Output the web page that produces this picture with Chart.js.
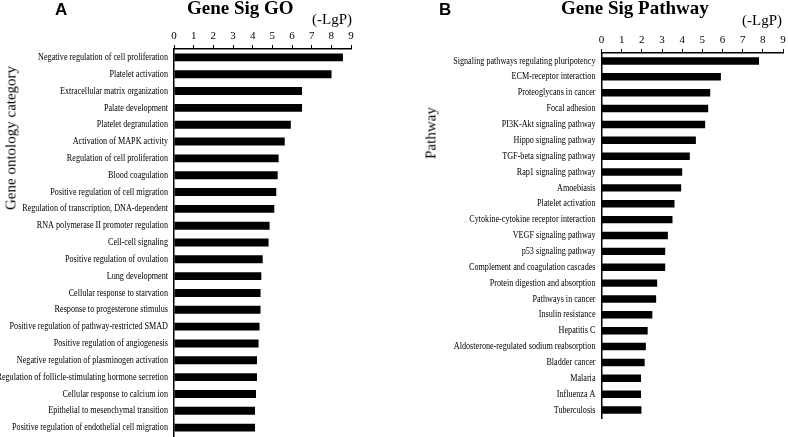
<!DOCTYPE html>
<html>
<head>
<meta charset="utf-8">
<script src="https://cdn.jsdelivr.net/npm/chart.js"></script>
<style>
  body { margin: 0; background: #fff; }
  #wrap { position: relative; width: 788px; height: 437px; overflow: hidden; }
  canvas { position: absolute; top: 0; }
  .t { position: absolute; white-space: nowrap; line-height: 1; color: #000; }
  .serif { font-family: "Liberation Serif", "Times New Roman", serif; }
  .panel { font-family: "Liberation Sans", Arial, sans-serif; font-weight: bold; font-size: 17px; }
  .ttl { font-weight: bold; font-size: 19px; }
  .unit { font-size: 15px; }
  .ytitle { font-size: 15px; transform: translate(-50%, -50%) rotate(-90deg); }
</style>
</head>
<body>
<div id="wrap">
  <canvas id="goChart" width="394" height="437" style="left:0"></canvas>
  <canvas id="pathChart" width="394" height="437" style="left:394px"></canvas>

  <div class="t panel" style="left:55px; top:1px">A</div>
  <div class="t serif ttl" style="left:187px; top:-2px">Gene Sig GO</div>
  <div class="t serif unit" style="left:312px; top:12px">(-LgP)</div>
  <div class="t serif ytitle" style="left:11px; top:138px">Gene ontology category</div>

  <div class="t panel" style="left:439px; top:1px">B</div>
  <div class="t serif ttl" style="left:561px; top:-2px">Gene Sig Pathway</div>
  <div class="t serif unit" style="left:742px; top:13px">(-LgP)</div>
  <div class="t serif ytitle" style="left:431px; top:133px">Pathway</div>
</div>

<script>
const xTicks = [0, 1, 2, 3, 4, 5, 6, 7, 8, 9];

const goLabels = [
  "Negative regulation of cell proliferation",
  "Platelet activation",
  "Extracellular matrix organization",
  "Palate development",
  "Platelet degranulation",
  "Activation of MAPK activity",
  "Regulation of cell proliferation",
  "Blood coagulation",
  "Positive regulation of cell migration",
  "Regulation of transcription, DNA-dependent",
  "RNA polymerase II promoter regulation",
  "Cell-cell signaling",
  "Positive regulation of ovulation",
  "Lung development",
  "Cellular response to starvation",
  "Response to progesterone stimulus",
  "Positive regulation of pathway-restricted SMAD",
  "Positive regulation of angiogenesis",
  "Negative regulation of plasminogen activation",
  "Regulation of follicle-stimulating hormone secretion",
  "Cellular response to calcium ion",
  "Epithelial to mesenchymal transition",
  "Positive regulation of endothelial cell migration"
];
const goValues = [8.59, 8.01, 6.51, 6.51, 5.94, 5.63, 5.32, 5.27, 5.20, 5.10, 4.86, 4.81,
  4.51, 4.44, 4.40, 4.40, 4.35, 4.30, 4.22, 4.22, 4.17, 4.12, 4.12];

const pathLabels = [
  "Signaling pathways regulating pluripotency",
  "ECM-receptor interaction",
  "Proteoglycans in cancer",
  "Focal adhesion",
  "PI3K-Akt signaling pathway",
  "Hippo signaling pathway",
  "TGF-beta signaling pathway",
  "Rap1 signaling pathway",
  "Amoebiasis",
  "Platelet activation",
  "Cytokine-cytokine receptor interaction",
  "VEGF signaling pathway",
  "p53 signaling pathway",
  "Complement and coagulation cascades",
  "Protein digestion and absorption",
  "Pathways in cancer",
  "Insulin resistance",
  "Hepatitis C",
  "Aldosterone-regulated sodium reabsorption",
  "Bladder cancer",
  "Malaria",
  "Influenza A",
  "Tuberculosis"
];
const pathValues = [7.81, 5.92, 5.39, 5.29, 5.14, 4.68, 4.38, 4.00, 3.95, 3.62, 3.52, 3.29,
  3.16, 3.16, 2.76, 2.71, 2.52, 2.29, 2.20, 2.14, 1.96, 1.96, 1.98];

const serif = "'Liberation Serif', 'Times New Roman', serif";

// category names are narrow in the original, so squeeze them a bit
const narrowLabels = {
  id: "narrowLabels",
  afterDraw(chart) {
    const y = chart.scales.y;
    const ctx = chart.ctx;
    ctx.save();
    ctx.font = "10px " + serif;
    ctx.fillStyle = "#000";
    ctx.textAlign = "right";
    ctx.textBaseline = "middle";
    chart.data.labels.forEach((lab, i) => {
      ctx.save();
      ctx.translate(y.right - 6, y.getPixelForValue(i));
      ctx.scale(0.815, 1);
      ctx.fillText(lab, 0, 0);
      ctx.restore();
    });
    ctx.restore();
  }
};

function makeChart(id, labels, values, box) {
  return new Chart(document.getElementById(id), {
    type: "bar",
    data: {
      labels: labels,
      datasets: [{
        data: values,
        backgroundColor: "#000",
        borderWidth: 0,
        barPercentage: 0.47,
        categoryPercentage: 1
      }]
    },
    options: {
      indexAxis: "y",
      responsive: false,
      animation: false,
      layout: { padding: { left: 0, top: 0, right: box.right, bottom: box.bottom } },
      plugins: { legend: { display: false }, tooltip: { enabled: false } },
      scales: {
        x: {
          position: "top",
          min: xTicks[0],
          max: xTicks[xTicks.length - 1],
          afterBuildTicks: (s) => { s.ticks = xTicks.map(v => ({ value: v })); },
          afterFit: (s) => { s.height = box.top; },
          ticks: { color: "#000", font: { family: serif, size: 11 }, padding: 2 },
          grid: { drawOnChartArea: false, drawTicks: true, tickLength: 4, color: "#000", lineWidth: 1 },
          border: { color: "#000", width: 1.5 }
        },
        y: {
          ticks: { display: false },
          grid: { display: false },
          afterFit: (s) => { s.width = box.left; },
          border: { color: "#000", width: 1.5 }
        }
      }
    },
    plugins: [narrowLabels]
  });
}

makeChart("goChart", goLabels, goValues, { left: 174, top: 49, right: 43, bottom: 1 });
makeChart("pathChart", pathLabels, pathValues, { left: 207.5, top: 53, right: 5, bottom: 19 });
</script>
</body>
</html>
